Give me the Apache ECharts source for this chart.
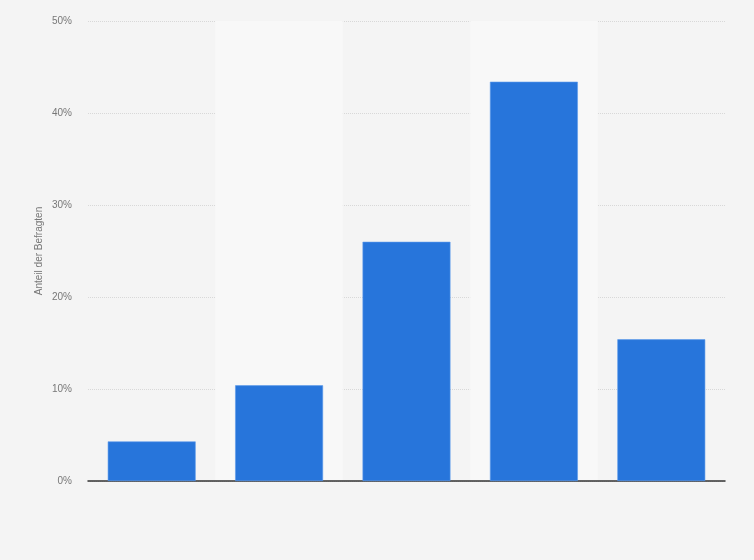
<!DOCTYPE html>
<html>
<head>
<meta charset="utf-8">
<style>
  html, body { margin: 0; padding: 0; background: #f4f4f4; }
  #chart { width: 754px; height: 560px; }
</style>
<script src="https://cdn.jsdelivr.net/npm/echarts@6/dist/echarts.min.js"></script>
</head>
<body>
<div id="chart"></div>
<script>
// Kategorien haben im Original keine sichtbaren Beschriftungen
var categories = ['A', 'B', 'C', 'D', 'E'];
var shares = [4.3, 10.4, 26.0, 43.4, 15.4];
var yTicks = [0, 10, 20, 30, 40, 50];

var chart = echarts.init(document.getElementById('chart'));

var option = {
	backgroundColor : '#f4f4f4',
	animation : false,
	grid : {
		left : 88,
		right : 29,
		top : 21,
		bottom : 79
	},
	xAxis : {
		type : 'category',
		data : categories,
		axisLine : {
			lineStyle : { color : '#333', width : 1.5 }
		},
		axisTick : { show : false },
		axisLabel : { show : false },
		splitArea : {
			show : true,
			areaStyle : { color : [ 'rgba(0,0,0,0)', '#f8f8f8' ] }
		}
	},
	yAxis : {
		type : 'value',
		min : yTicks[0],
		max : yTicks[yTicks.length - 1],
		interval : 10,
		name : 'Anteil der Befragten',
		nameLocation : 'middle',
		nameGap : 44,
		nameMoveOverlap : false,
		nameTextStyle : {
			color : '#777',
			fontSize : 10,
			fontFamily : 'Liberation Sans'
		},
		axisLine : { show : false },
		axisTick : { show : false },
		axisLabel : {
			formatter : '{value}%',
			color : '#777',
			fontSize : 10,
			fontFamily : 'Liberation Sans',
			margin : 16
		},
		splitLine : {
			lineStyle : { color : '#d8d8d8', type : 'dotted', width : 1 }
		}
	},
	series : [ {
		type : 'bar',
		data : shares,
		barWidth : '69%',
		itemStyle : {
			color : '#2775db',
			borderColor : '#5c9aeb',
			borderWidth : 0.6
		}
	} ]
};

chart.setOption(option);
</script>
</body>
</html>
